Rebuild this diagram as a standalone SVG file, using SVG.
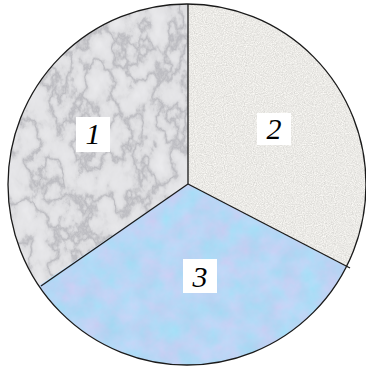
<svg xmlns="http://www.w3.org/2000/svg" width="366" height="369" viewBox="0 0 366 369">
<defs>
<style>
.lbl{fill:#fff}
.num{font-family:"Liberation Serif","Times New Roman",serif;font-style:italic;font-size:30px;fill:#000;text-anchor:middle}
.edge{stroke:#1a1a1a;stroke-width:1.3;fill:none}
filter{color-interpolation-filters:sRGB}
</style>
<clipPath id="disc"><ellipse cx="187" cy="184.5" rx="179" ry="180.5"/></clipPath>
<clipPath id="s1"><polygon points="188,184 188,-10 -10,-10 -10,319"/></clipPath>
<clipPath id="s2"><polygon points="188,184 188,-10 380,-10 380,284"/></clipPath>
<clipPath id="s3"><polygon points="188,184 -10,319 -10,380 380,380 380,284"/></clipPath>
<filter id="marble" x="0" y="0" width="1" height="1" filterUnits="objectBoundingBox">
<feTurbulence type="fractalNoise" baseFrequency="0.035 0.025" numOctaves="5" seed="7" result="n"/>
<feColorMatrix in="n" type="matrix" values="1 0 0 0 0  1 0 0 0 0  1 0 0 0 0  0 0 0 0 1" result="g"/>
<feComponentTransfer in="g">
<feFuncR type="table" tableValues="0.95 0.94 0.93 0.92 0.91 0.9 0.89 0.86 0.74 0.86 0.89 0.9 0.91 0.92 0.93 0.94 0.95"/>
<feFuncG type="table" tableValues="0.95 0.94 0.93 0.92 0.91 0.9 0.89 0.86 0.74 0.86 0.89 0.9 0.91 0.92 0.93 0.94 0.95"/>
<feFuncB type="table" tableValues="0.96 0.95 0.94 0.93 0.92 0.91 0.9 0.87 0.76 0.87 0.9 0.91 0.92 0.93 0.94 0.95 0.96"/>
</feComponentTransfer>
</filter>
<filter id="speck" x="0" y="0" width="1" height="1" filterUnits="objectBoundingBox">
<feTurbulence type="fractalNoise" baseFrequency="0.9" numOctaves="2" seed="2"/>
<feColorMatrix type="matrix" values="0.2 0 0 0 0.82  0.2 0 0 0 0.815  0.2 0 0 0 0.8  0 0 0 0 1"/>
</filter>
<filter id="blue" x="0" y="0" width="1" height="1" filterUnits="objectBoundingBox">
<feTurbulence type="fractalNoise" baseFrequency="0.05" numOctaves="4" seed="11" result="n"/>
<feColorMatrix in="n" type="matrix" values="0.2 0 0 0 0.62  -0.06 0.06 0 0 0.84  0 0.04 0 0 0.94  0 0 0 0 1"/>
</filter>
</defs>
<rect width="366" height="369" fill="#fff"/>
<g clip-path="url(#disc)">
<g id="sector1" clip-path="url(#s1)"><rect x="0" y="0" width="200" height="330" filter="url(#marble)"/></g>
<g id="sector2" clip-path="url(#s2)"><rect x="180" y="0" width="186" height="300" filter="url(#speck)"/></g>
<g id="sector3" clip-path="url(#s3)"><rect x="0" y="180" width="366" height="189" filter="url(#blue)"/></g>
</g>
<ellipse class="edge" cx="187" cy="184.5" rx="179" ry="180.5"/>
<g id="connectors">
<line class="edge" x1="188" y1="184" x2="188" y2="4"/>
<line class="edge" x1="188" y1="184" x2="41" y2="286"/>
<line class="edge" x1="188" y1="184" x2="350" y2="268"/>
</g>
<g id="label1"><rect class="lbl" x="76" y="117" width="34" height="35"/><text class="num" x="93" y="144">1</text></g>
<g id="label2"><rect class="lbl" x="257" y="113" width="34" height="32"/><text class="num" x="274" y="139">2</text></g>
<g id="label3"><rect class="lbl" x="183" y="259" width="34" height="34"/><text class="num" x="200" y="287">3</text></g>
</svg>
